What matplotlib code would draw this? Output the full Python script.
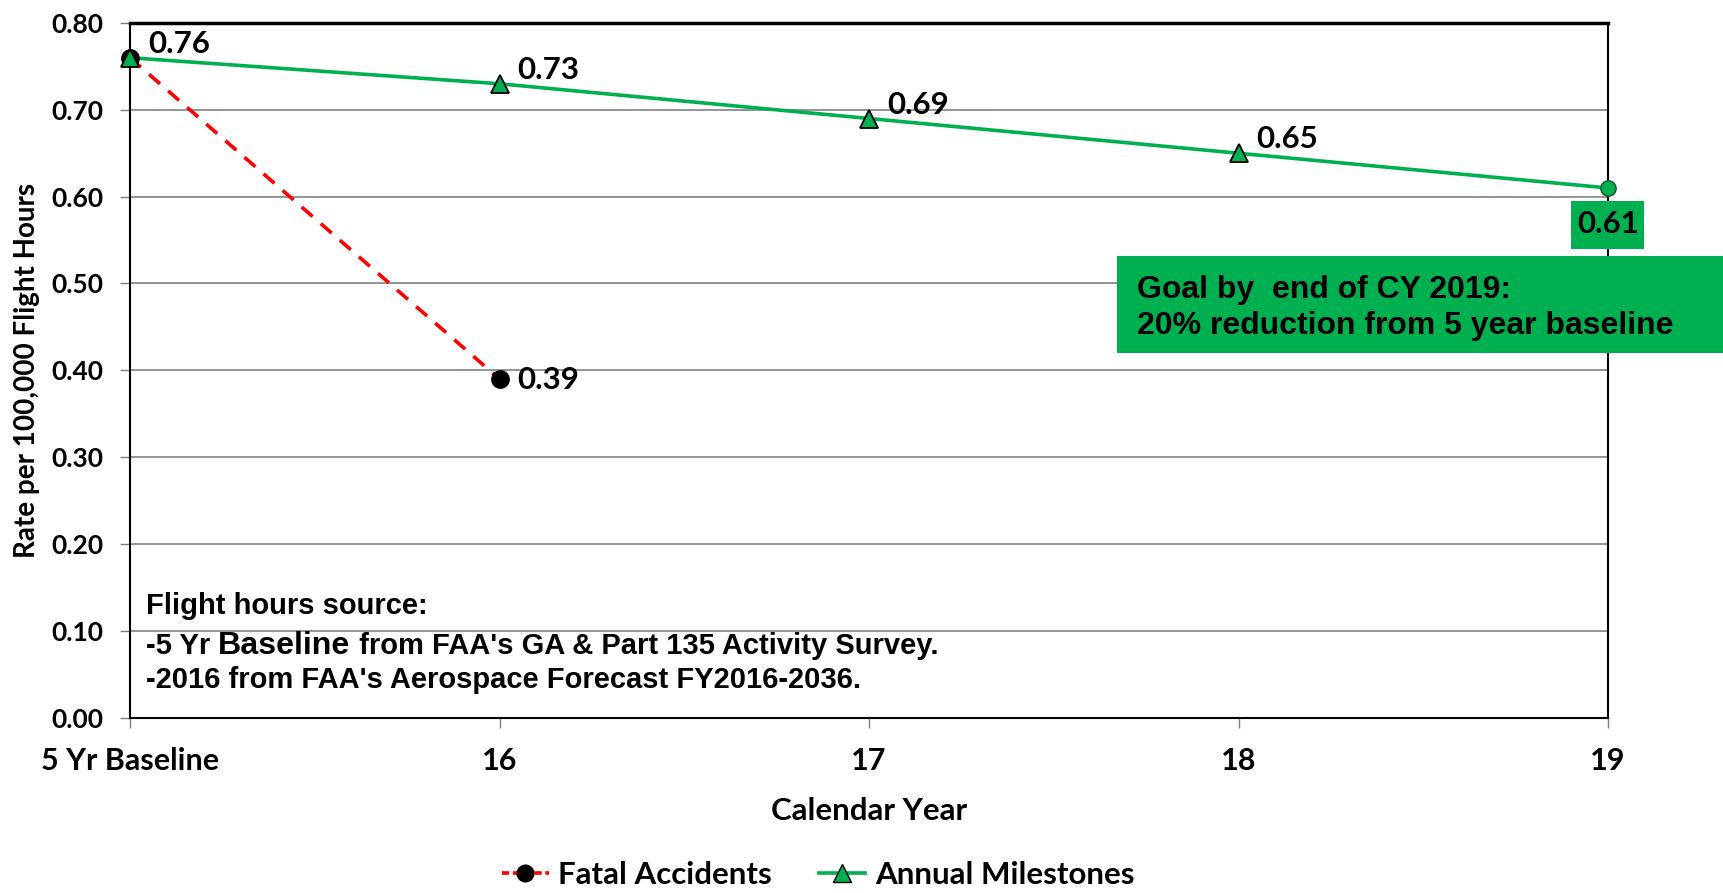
import numpy as np
import matplotlib
matplotlib.use("Agg")
import matplotlib.pyplot as plt
from matplotlib.patches import Rectangle
from matplotlib.lines import Line2D

# data
categories = ["5 Yr Baseline", "16", "17", "18", "19"]
milestones = [0.76, 0.73, 0.69, 0.65, 0.61]
fatal = [0.76, 0.39]
yticks = [0.0, 0.1, 0.2, 0.3, 0.4, 0.5, 0.6, 0.7, 0.8]

green = "#00B050"
red = "#FF0000"
xl_font = "Lato"
arial = "Liberation Sans"

W, H = 1723, 893
fig = plt.figure(figsize=(W / 100, H / 100), dpi=100)
ax = fig.add_axes([130 / W, 1 - 717.6 / H, (1608 - 130) / W, (717.6 - 23) / H])

x = np.arange(len(categories))
xf = x[:len(fatal)]

ax.plot(x, milestones, color=green, lw=2.6, zorder=3)
ax.plot(x[:-1], milestones[:-1], ls="none", marker="^", ms=13, mfc=green,
        mec="black", mew=1.3, zorder=5, clip_on=False)
ax.plot(x[-1:], milestones[-1:], ls="none", marker="o", ms=11, mfc=green,
        mec="#0a5a2a", mew=1.0, zorder=5, clip_on=False)
ax.plot(xf, fatal, color=red, lw=2.6, ls=(0, (4, 3)), zorder=2)
ax.plot(xf, fatal, ls="none", marker="o", ms=12.5, mfc="black", mec="black",
        zorder=4, clip_on=False)

# data labels
for i, v in enumerate(milestones[:-1]):
    ax.annotate(f"{v:.2f}", (x[i], v), xytext=(13, 10), textcoords="offset points",
                fontsize=22.5, fontweight="bold", family=xl_font, va="center", ha="left")
ax.annotate(f"{fatal[1]:.2f}", (xf[1], fatal[1]), xytext=(13, -1), textcoords="offset points",
            fontsize=22.5, fontweight="bold", family=xl_font, va="center", ha="left")
lab61 = ax.annotate(f"{milestones[-1]:.2f}", (x[-1], milestones[-1]), xytext=(0, -26),
                    textcoords="offset points", fontsize=22.5, fontweight="bold",
                    family=xl_font, va="center", ha="center", zorder=8)

ax.set_xlim(0, 4)
ax.set_ylim(0, 0.8)
ax.set_yticks(yticks)
ax.set_yticklabels([f"{t:.2f}" for t in yticks])
ax.set_xticks(x)
ax.set_xticklabels(categories)
for lab in ax.get_yticklabels():
    lab.set_family(xl_font)
    lab.set_fontweight("bold")
    lab.set_fontsize(19)
for lab in ax.get_xticklabels():
    lab.set_family(xl_font)
    lab.set_fontweight("bold")
    lab.set_fontsize(22)
ax.tick_params(axis="y", length=7, width=1, color="#808080", pad=12)
ax.tick_params(axis="x", length=7, width=1, color="#808080", pad=14)
ax.grid(axis="y", color="#8c8c8c", lw=1.3)
ax.set_axisbelow(True)
for s in ax.spines.values():
    s.set_color("black")
    s.set_linewidth(1.5)
ax.spines["top"].set_linewidth(2.5)

ax.set_xlabel("Calendar Year", family=xl_font, fontweight="bold", fontsize=22.5, labelpad=16)
ax.set_ylabel("Rate per 100,000 Flight Hours", family=xl_font, fontweight="bold", fontsize=20)
ax.yaxis.set_label_coords(-0.061, 0.5)

# goal box
fig.add_artist(Rectangle((1117 / W, 1 - 353 / H), (W - 1117) / W, 97 / H,
                         transform=fig.transFigure, fc=green, ec="none", zorder=6))
fig.text(1137 / W, 1 - 308 / H, "Goal by  end of CY 2019:\n20% reduction from 5 year baseline",
         family=arial, fontweight="bold", fontsize=23, va="center", ha="left",
         linespacing=1.3, zorder=7)

handles = [Line2D([], [], color=red, lw=2.6, ls=(0, (2, 1)), marker="o", ms=12,
                  mfc="black", mec="black"),
           Line2D([], [], color=green, lw=2.6, marker="^", ms=13, mfc=green, mec="black")]
fig.legend(handles, ["Fatal Accidents", "Annual Milestones"], loc="center",
           bbox_to_anchor=(818 / W, 1 - 875 / H), ncol=2, frameon=False,
           prop={"family": xl_font, "weight": "bold", "size": 22.5},
           handlelength=1.5, columnspacing=1.5, handletextpad=0.3, borderpad=0.1)

fig.canvas.draw()
rend = fig.canvas.get_renderer()

# green box behind 0.61, wider vertical padding than horizontal
bb = lab61.get_window_extent(rend)
ax.add_patch(Rectangle(((bb.x0 - 6) / W, (bb.y0 - 11) / H), (bb.width + 11) / W,
                       (bb.height + 20) / H, transform=fig.transFigure,
                       fc=green, ec="none", zorder=7, clip_on=False))

# note text, "Baseline" a bit larger as in the reference
note_x = 146
note_size = 21
fig.text(note_x / W, 1 - 614 / H, "Flight hours source:", family=arial,
         fontweight="bold", fontsize=note_size, va="baseline")
px = note_x
for piece, sz in [("-5 Yr ", note_size), ("Baseline", note_size * 1.1),
                  (" from FAA's GA & Part 135 Activity Survey.", note_size)]:
    t = fig.text(px / W, 1 - 654 / H, piece, family=arial, fontweight="bold",
                 fontsize=sz, va="baseline")
    px = t.get_window_extent(rend).x1
fig.text(note_x / W, 1 - 688 / H, "-2016 from FAA's Aerospace Forecast FY2016-2036.",
         family=arial, fontweight="bold", fontsize=note_size, va="baseline")

fig.savefig("out.png", dpi=100)
